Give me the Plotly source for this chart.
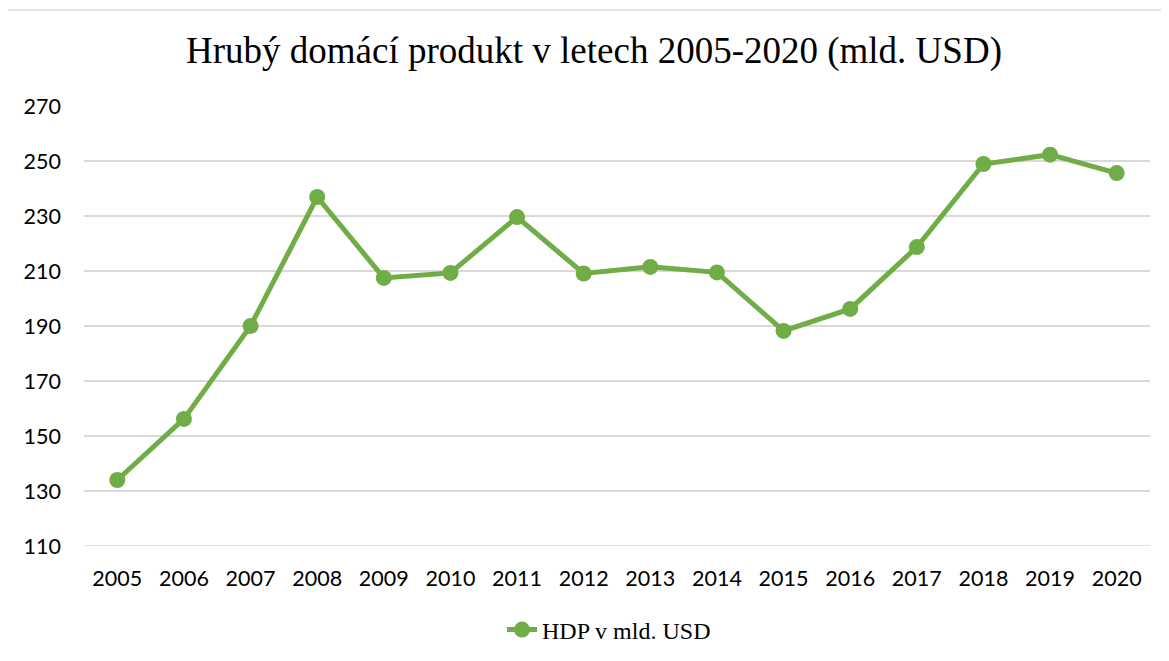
import plotly.graph_objects as go

years = [str(y) for y in range(2005, 2021)]
hdp = [134.0, 156.2, 190.0, 236.9, 207.5, 209.3, 229.6, 209.1, 211.5, 209.5,
       188.2, 196.2, 218.7, 248.9, 252.3, 245.6]
y_ticks = [110, 130, 150, 170, 190, 210, 230, 250, 270]

green = "#70AD47"
grid = "#D9D9D9"

W, H = 1169, 661
L, T = 76, 98
PW, PH = 1066, 440
R = W - L - PW
B = H - T - PH

fig = go.Figure()
fig.add_trace(go.Scatter(
    x=years, y=hdp, mode="lines+markers", name="HDP v mld. USD",
    line=dict(color=green, width=5),
    marker=dict(color=green, size=16),
))

fig.update_layout(
    width=W, height=H,
    margin=dict(l=L, r=R, t=T, b=B),
    paper_bgcolor="white", plot_bgcolor="white",
    title=dict(text="Hrubý domácí produkt v letech 2005-2020 (mld. USD)",
               x=586 / W, xref="container", y=1 - 42 / H, yref="container",
               xanchor="center", yanchor="middle",
               font=dict(family="Liberation Serif", size=37, color="black")),
    xaxis=dict(type="category", range=[-0.5, 15.5], automargin=False,
               showgrid=False, showline=False, zeroline=False,
               tickfont=dict(family="Lato", size=21.5, color="black"),
               ticks="", ticklabelstandoff=17),
    yaxis=dict(range=[y_ticks[0], y_ticks[-1]], tickvals=y_ticks, automargin=False,
               showgrid=True, gridcolor=grid, gridwidth=1.5, zeroline=False,
               showline=False,
               tickfont=dict(family="Lato", size=21.5, color="black"),
               ticks="", ticklabelstandoff=22),
    showlegend=True,
    legend=dict(orientation="h", x=0.5 - 8 / PW, xanchor="center",
                y=(PH - (622 - T)) / PH, yanchor="middle",
                font=dict(family="Liberation Serif", size=24, color="black")),
    shapes=[
        dict(type="rect", xref="paper", yref="paper",
             x0=(-1 - L) / PW, x1=1.2, y0=-0.6, y1=(T + PH - 2) / PH,
             line=dict(color=grid, width=1.5), layer="below"),
        dict(type="line", xref="paper", yref="y", x0=0, x1=1,
             y0=y_ticks[0], y1=y_ticks[0],
             line=dict(color=grid, width=1.5), layer="below"),
    ],
)

fig.write_html("out.html")
